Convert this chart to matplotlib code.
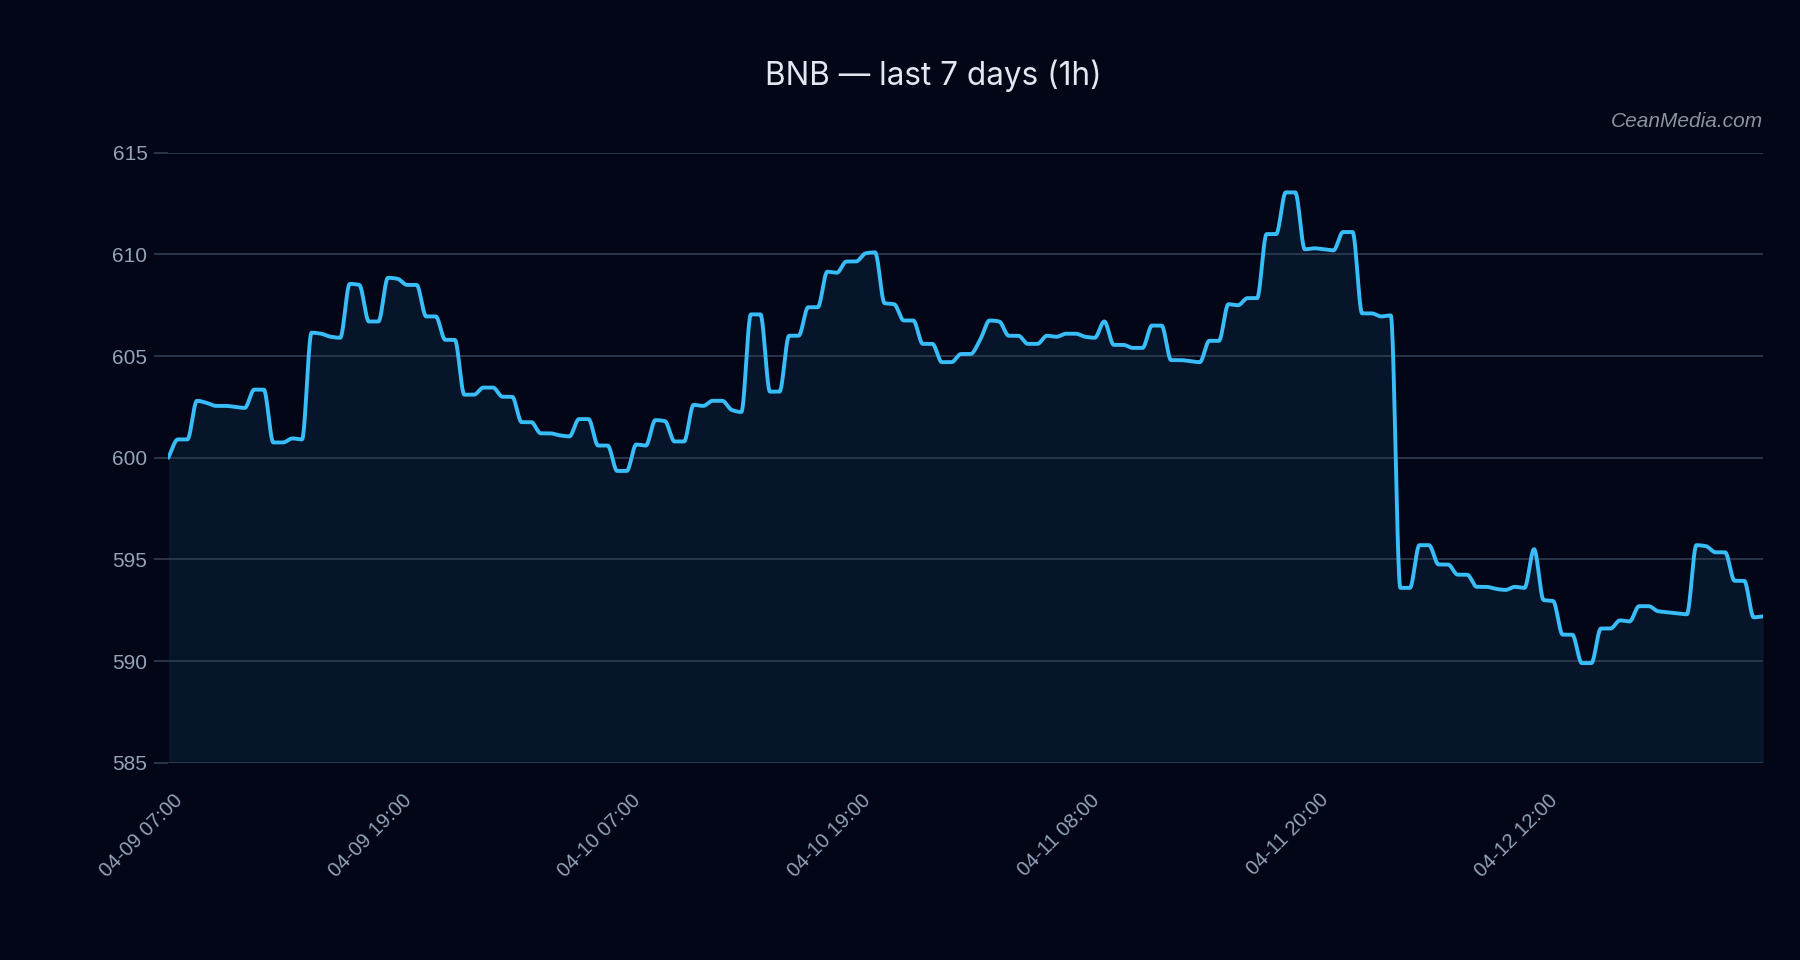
# BNB hourly price, last 7 days
import numpy as np
import matplotlib
matplotlib.use("Agg")
import matplotlib.pyplot as plt
import matplotlib.transforms as mtransforms

# Data
prices = [
    600.0, 600.9, 600.9, 602.8, 602.7, 602.55, 602.55, 602.5, 602.45, 603.35,
    603.35, 600.75, 600.75, 600.95, 600.9, 606.15, 606.1, 605.95, 605.9, 608.55,
    608.5, 606.7, 606.7, 608.85, 608.8, 608.5, 608.5, 606.95, 606.95, 605.8,
    605.8, 603.1, 603.1, 603.45, 603.45, 603.0, 603.0, 601.75, 601.75, 601.2,
    601.2, 601.1, 601.05, 601.9, 601.9, 600.6, 600.6, 599.35, 599.35, 600.65,
    600.6, 601.85, 601.8, 600.8, 600.8, 602.6, 602.55, 602.8, 602.8, 602.35,
    602.25, 607.05, 607.05, 603.25, 603.25, 606.0, 606.0, 607.4, 607.4, 609.15,
    609.1, 609.65, 609.65, 610.05, 610.1, 607.6, 607.55, 606.75, 606.75, 605.6,
    605.6, 604.7, 604.7, 605.1, 605.1, 605.8, 606.75, 606.7, 606.0, 606.0,
    605.6, 605.6, 606.0, 605.95, 606.1, 606.1, 605.95, 605.9, 606.7, 605.55,
    605.55, 605.4, 605.4, 606.5, 606.5, 604.8, 604.8, 604.75, 604.7, 605.75,
    605.75, 607.55, 607.5, 607.85, 607.85, 611.0, 611.0, 613.05, 613.05, 610.25,
    610.3, 610.25, 610.2, 611.1, 611.1, 607.1, 607.1, 606.95, 607.0, 593.6,
    593.6, 595.7, 595.7, 594.75, 594.75, 594.25, 594.25, 593.65, 593.65, 593.55,
    593.5, 593.65, 593.6, 595.5, 593.0, 592.95, 591.3, 591.3, 589.9, 589.9,
    591.6, 591.6, 592.0, 591.95, 592.7, 592.7, 592.45, 592.4, 592.35, 592.3,
    595.7, 595.65, 595.35, 595.35, 593.95, 593.95, 592.15, 592.2,
]
tick_labels = ["04-09 07:00", "04-09 19:00", "04-10 07:00", "04-10 19:00",
               "04-11 08:00", "04-11 20:00", "04-12 12:00"]
tick_every = 24
y_ticks = [585, 590, 595, 600, 605, 610, 615]

BG = "#020617"
FILL = "#061529"
LINE = "#38bdf8"
GRID = "#334155"
MUTED = "#94a3b8"


def pchip(x, y, xs):
    # monotone cubic interpolation, numpy only
    x = np.asarray(x, float)
    y = np.asarray(y, float)
    h = np.diff(x)
    d = np.diff(y) / h
    m = np.zeros_like(y)
    for k in range(1, len(y) - 1):
        if d[k - 1] * d[k] > 0:
            w1 = 2 * h[k] + h[k - 1]
            w2 = h[k] + 2 * h[k - 1]
            m[k] = (w1 + w2) / (w1 / d[k - 1] + w2 / d[k])
    m[0] = d[0]
    m[-1] = d[-1]
    idx = np.clip(np.searchsorted(x, xs) - 1, 0, len(x) - 2)
    t = (xs - x[idx]) / h[idx]
    h00 = 2 * t**3 - 3 * t**2 + 1
    h10 = t**3 - 2 * t**2 + t
    h01 = -2 * t**3 + 3 * t**2
    h11 = t**3 - t**2
    return (h00 * y[idx] + h10 * h[idx] * m[idx]
            + h01 * y[idx + 1] + h11 * h[idx] * m[idx + 1])


x = np.arange(len(prices))
xs = np.linspace(0, len(prices) - 1, 4000)
ys = pchip(x, prices, xs)

plt.rcParams["font.family"] = ["Liberation Sans", "DejaVu Sans"]

fig = plt.figure(figsize=(18, 9.6), dpi=100, facecolor=BG)
ax = fig.add_axes([0.0935, 0.2055, 0.8861, 0.6354])
ax.set_facecolor(BG)

ax.fill_between(xs, ys, 585, color=FILL, lw=0, zorder=1)
ax.plot(xs, ys, color=LINE, lw=2.8, solid_capstyle="round", zorder=3)

ax.set_xlim(0, len(prices) - 1)
ax.set_ylim(585, 615)
ax.set_yticks(y_ticks)
ax.set_xticks(x[::tick_every])
ax.set_xticklabels(tick_labels, rotation=45, ha="right")

ax.set_axisbelow(False)
ax.yaxis.grid(True, color=GRID, lw=1.1, zorder=2)
ax.xaxis.grid(False)
for s in ax.spines.values():
    s.set_visible(False)

ax.tick_params(axis="y", length=10, width=1.1, color=GRID, labelcolor=MUTED,
               labelsize=15, pad=5)
ax.tick_params(axis="x", length=0, labelcolor=MUTED, labelsize=14.7, pad=20)

offset = mtransforms.ScaledTranslation(0.18, 0, fig.dpi_scale_trans)
for lbl in ax.get_xticklabels():
    lbl.set_transform(lbl.get_transform() + offset)

fig.text(0.5186, 1 - 85 / 960, "BNB \u2014 last 7 days (1h)", ha="center",
         va="baseline", fontsize=22.7, color="#e2e8f0", family=["Inter", "DejaVu Sans"])
fig.text(1763.3 / 1800, 1 - 126.7 / 960, "CeanMedia.com", ha="right",
         va="baseline", fontsize=15, style="italic", color="#8b93a3")

fig.savefig("out.png", dpi=100, facecolor=BG)
